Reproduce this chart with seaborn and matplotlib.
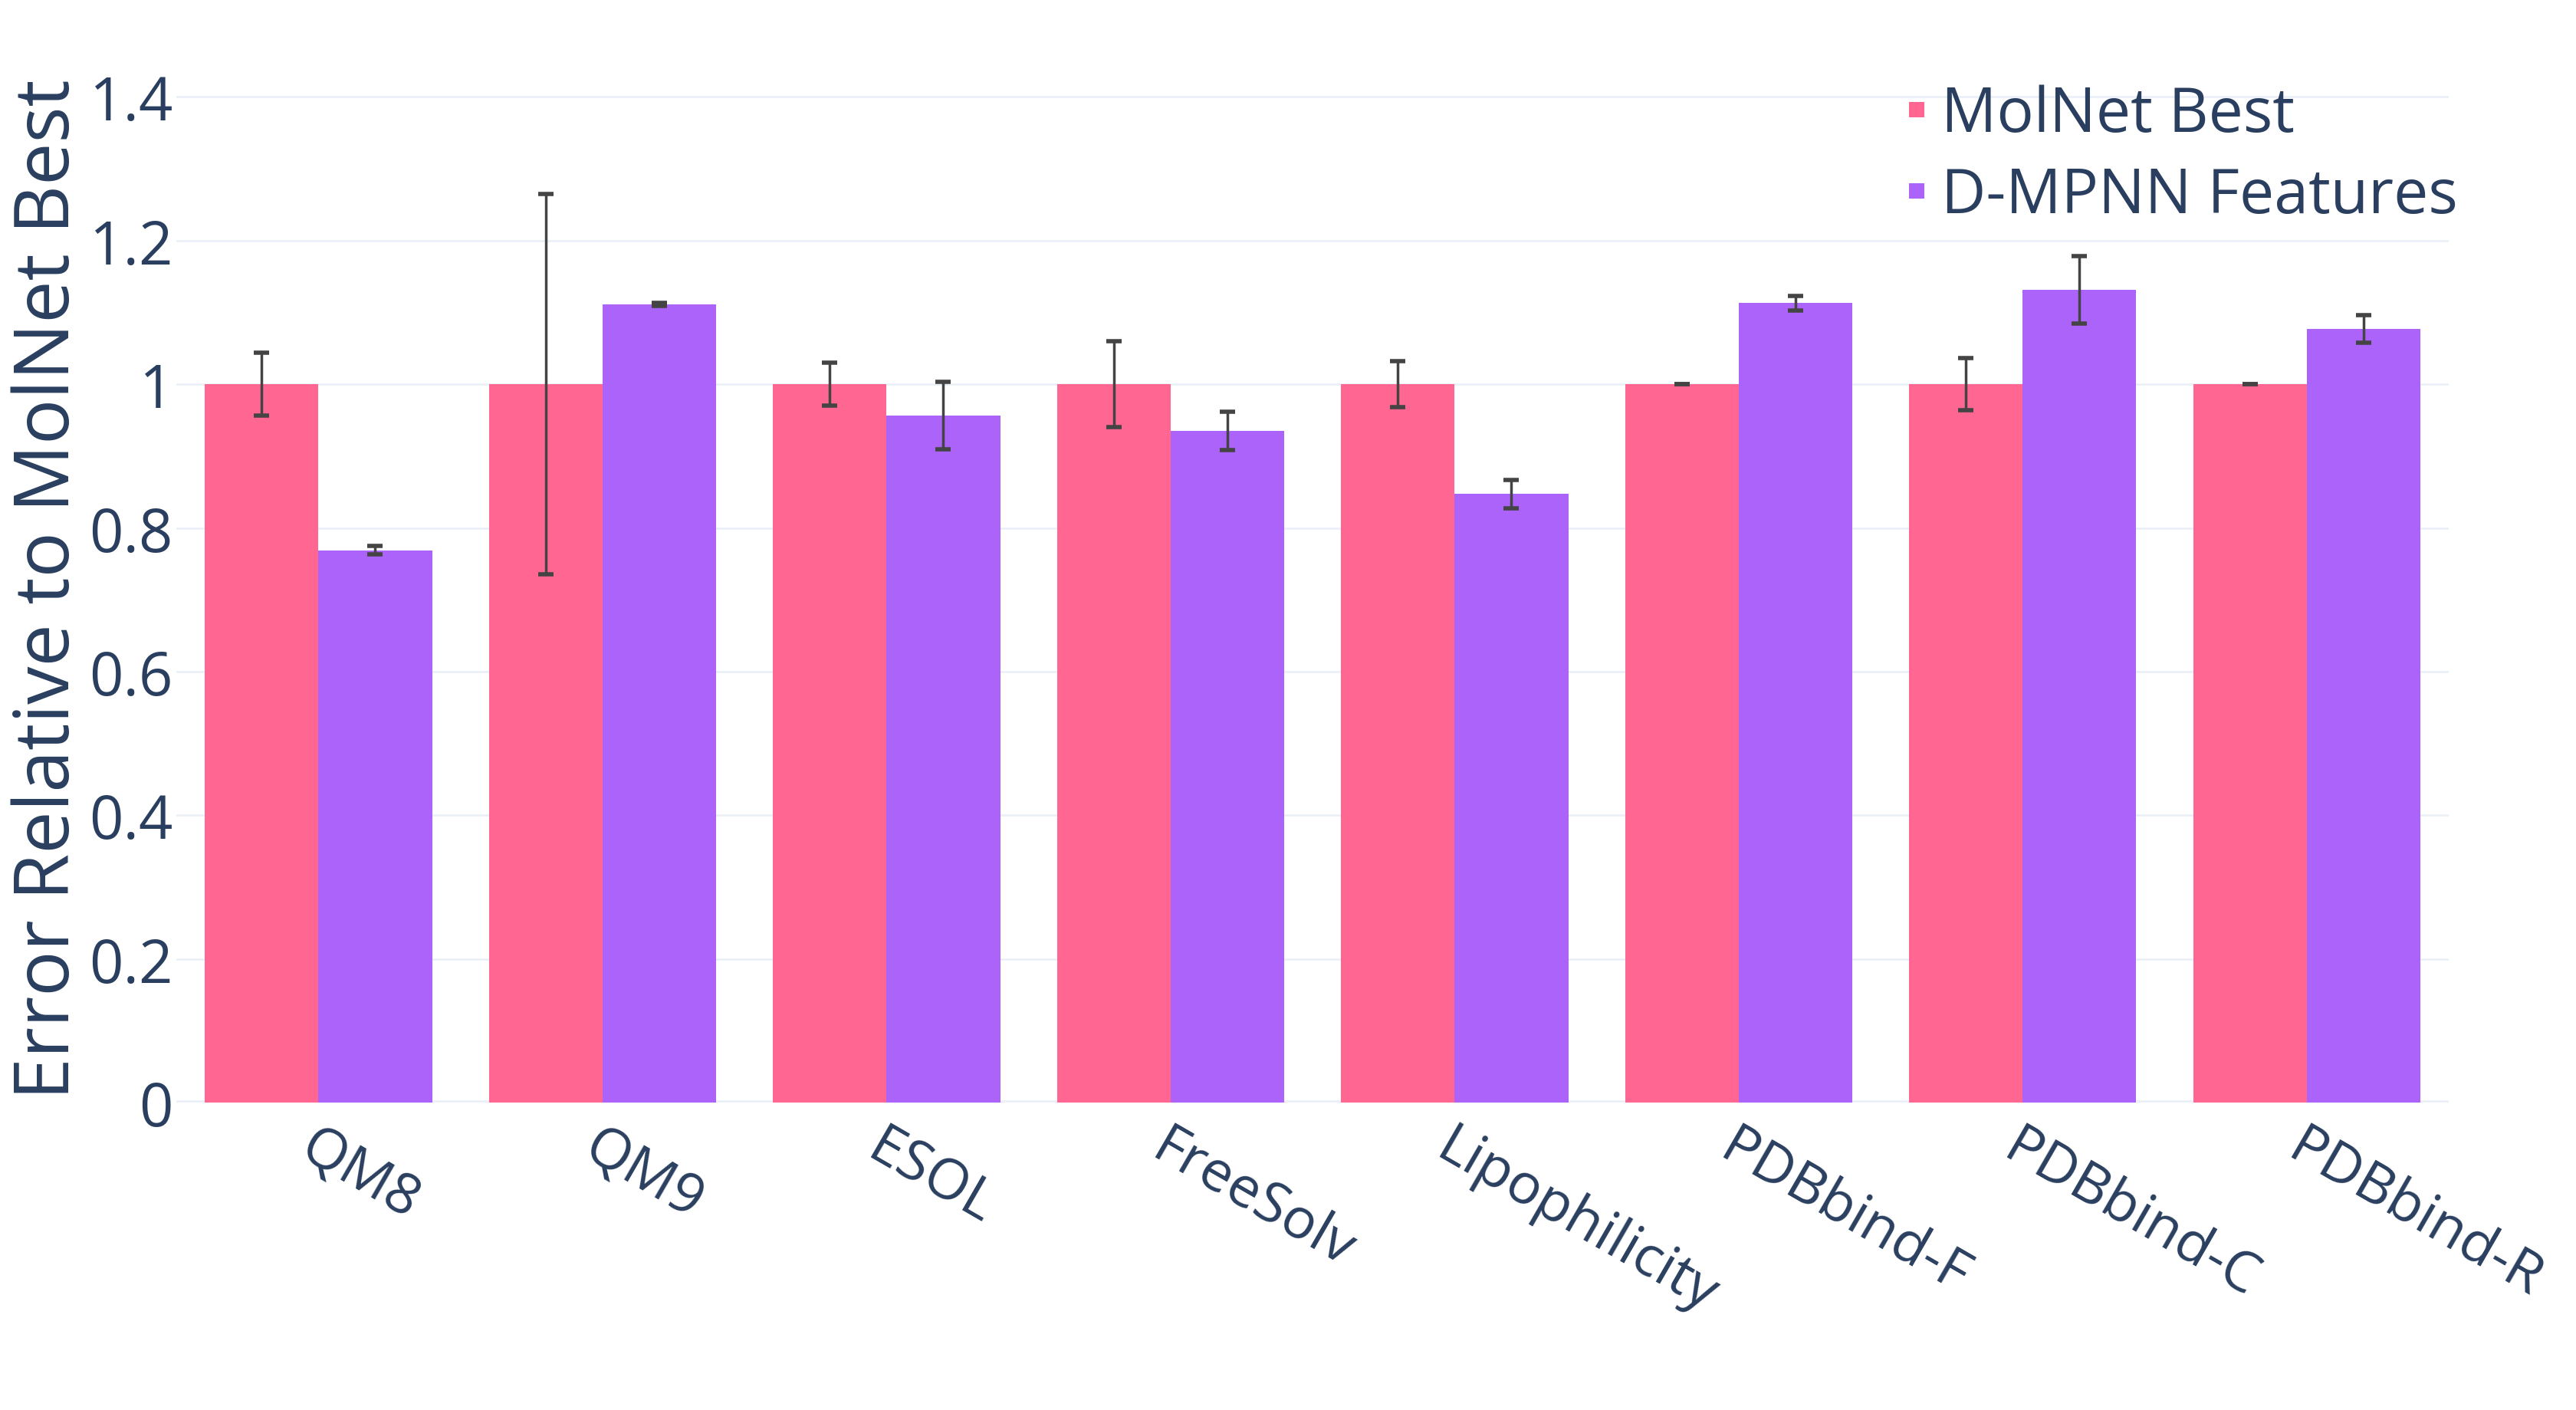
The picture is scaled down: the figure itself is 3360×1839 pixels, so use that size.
import numpy as np
import pandas as pd
import matplotlib
matplotlib.use('Agg')
import matplotlib.pyplot as plt
import seaborn as sns
from matplotlib.lines import Line2D

datasets = ['QM8', 'QM9', 'ESOL', 'FreeSolv', 'Lipophilicity',
            'PDBbind-F', 'PDBbind-C', 'PDBbind-R']
series_names = ['MolNet Best', 'D-MPNN Features']

molnet_vals = [1, 1, 1, 1, 1, 1, 1, 1]
molnet_err = [0.044, 0.265, 0.030, 0.060, 0.032, 0.0, 0.036, 0.0]
dmpnn_vals = [0.769, 1.111, 0.956, 0.935, 0.847, 1.113, 1.131, 1.077]
dmpnn_err = [0.006, 0.002, 0.047, 0.027, 0.020, 0.010, 0.047, 0.019]

colors = ['#FF6692', '#AB63FA']
text_color = '#2a3f5f'
grid_color = '#EBF0F8'

df = pd.DataFrame({
    'dataset': datasets * 2,
    'series': [series_names[0]] * len(datasets) + [series_names[1]] * len(datasets),
    'value': molnet_vals + dmpnn_vals,
})
errs = [molnet_err, dmpnn_err]

sns.set_theme(style='white')
plt.rcParams['font.family'] = ['Open Sans', 'DejaVu Sans']

fig = plt.figure(figsize=(33.6, 18.4), dpi=100)
ax = fig.add_axes([0.0685, 0.218, 0.8821, 0.729])

sns.barplot(data=df, x='dataset', y='value', hue='series', order=datasets,
            hue_order=series_names, palette=colors, errorbar=None,
            width=0.8, saturation=1, linewidth=0, ax=ax, legend=False, zorder=2)

# error bars on top of each bar
for cont, e in zip(ax.containers, errs):
    xs = [p.get_x() + p.get_width() / 2 for p in cont]
    ys = [p.get_height() for p in cont]
    ax.errorbar(xs, ys, yerr=e, fmt='none', ecolor='#444444', elinewidth=2.5,
                capsize=7, capthick=4, zorder=3)

ax.set_ylim(0, 1.432)
ax.set_xlim(-0.5, len(datasets) - 0.5)
yticks = [0, 0.2, 0.4, 0.6, 0.8, 1.0, 1.2, 1.4]
ax.set_yticks(yticks)
ax.set_yticklabels(['0', '0.2', '0.4', '0.6', '0.8', '1', '1.2', '1.4'])
ax.grid(axis='y', color=grid_color, linewidth=2, zorder=0)
ax.set_axisbelow(True)
ax.axhline(0, color=grid_color, linewidth=4, zorder=1)
for s in ax.spines.values():
    s.set_visible(False)

ax.tick_params(axis='y', labelsize=56, colors=text_color, length=0, pad=3)
ax.tick_params(axis='x', labelsize=53, colors=text_color, length=0, pad=15)
for lbl in ax.get_xticklabels():
    lbl.set_rotation(-30)
    lbl.set_ha('left')
    lbl.set_va('top')
    lbl.set_rotation_mode('anchor')

ax.set_xlabel('')
ax.set_ylabel('Error Relative to MolNet Best', fontsize=71, color=text_color, labelpad=2)

handles = [Line2D([], [], marker='s', linestyle='none', markersize=15,
                  markerfacecolor=c, markeredgewidth=0) for c in colors]
fig.legend(handles, series_names, loc='upper left', bbox_to_anchor=(0.740, 0.940),
           frameon=False, fontsize=58, labelcolor=text_color, handlelength=0.35,
           handletextpad=0.22, labelspacing=0.32, borderpad=0, borderaxespad=0)

fig.savefig('out.png', dpi=100, facecolor='white')
